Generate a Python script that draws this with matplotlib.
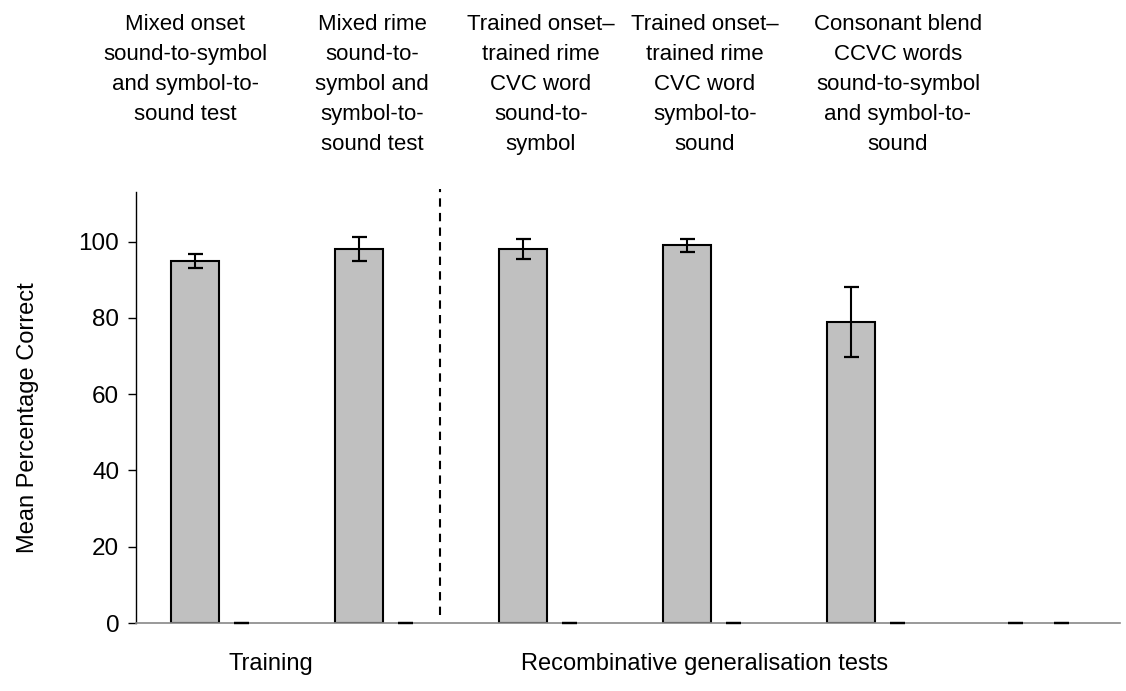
import matplotlib
matplotlib.use("Agg")
import matplotlib.pyplot as plt
import numpy as np
from matplotlib import font_manager

names = {f.name for f in font_manager.fontManager.ttflist}
NARROW = 'Liberation Sans Narrow' if 'Liberation Sans Narrow' in names else 'Liberation Sans'

categories = [
    "Mixed onset\nsound-to-symbol\nand symbol-to-\nsound test",
    "Mixed rime\nsound-to-\nsymbol and\nsymbol-to-\nsound test",
    "Trained onset\u2013\ntrained rime\nCVC word\nsound-to-\nsymbol",
    "Trained onset\u2013\ntrained rime\nCVC word\nsymbol-to-\nsound",
    "Consonant blend\nCCVC words\nsound-to-symbol\nand symbol-to-\nsound",
    "",
]
series1 = [95.0, 98.0, 98.0, 99.0, 79.0, 0.0]
errors1 = [1.8, 3.2, 2.6, 1.6, 9.2, 0.0]
series2 = [0.0, 0.0, 0.0, 0.0, 0.0, 0.0]
errors2 = [0.0, 0.0, 0.0, 0.0, 0.0, 0.0]
yticks = [0, 20, 40, 60, 80, 100]
group_labels = ["Training", "Recombinative generalisation tests"]

fig = plt.figure(figsize=(11.26, 6.91), dpi=100)
ax = fig.add_axes([136/1126, 1-623/691, (1120-136)/1126, (623-192)/691])

x = np.arange(len(series1))
w = 0.293
off = 0.143
ec1 = ['black' if v != 0 else 'none' for v in series1]
ax.bar(x - off, series1, width=w, color='#C0C0C0', edgecolor=ec1, linewidth=1.5, zorder=2)
ax.errorbar(x - off, series1, yerr=errors1, fmt='none', ecolor='black', elinewidth=1.5,
            capsize=5.4, capthick=1.6, zorder=3, clip_on=False)
ax.errorbar(x + off, series2, yerr=errors2, fmt='none', ecolor='black', elinewidth=1.5,
            capsize=5.4, capthick=1.6, zorder=3, clip_on=False)

ax.set_xlim(-0.5, len(series1) - 0.5)
ax.set_ylim(0, 113)
ax.set_yticks(yticks)
ax.set_yticklabels([str(t) for t in yticks], fontfamily='Liberation Sans', fontsize=17.5)
ax.set_xticks([])
ax.tick_params(axis='y', direction='out', length=6, width=1, colors='black', pad=6)
for s in ['top', 'right']:
    ax.spines[s].set_visible(False)
ax.spines['bottom'].set_color('#888888')
ax.spines['bottom'].set_linewidth(1.2)
ax.spines['left'].set_color('black')
ax.spines['left'].set_linewidth(1)

ax.set_ylabel("Mean Percentage Correct", fontfamily=NARROW, fontsize=17)
ax.yaxis.set_label_coords(-0.099, 1 - (418 - 192) / (623 - 192))

# dashed separator between training and tests
ax.plot([1.354, 1.354], [2, 113.8], ls=(0, (4, 3)), color='black', lw=1.5, clip_on=False, zorder=1)

label_x = [185, 372, 541, 705, 898]
for lx, lab in zip(label_x, categories[:5]):
    fig.text(lx/1126, 1-14/691, lab, ha='center', va='top', fontfamily=NARROW,
             fontsize=16, linespacing=1.56)

fig.text(271/1126, 1-664/691, group_labels[0], ha='center', va='center', fontfamily=NARROW, fontsize=17)
fig.text(705/1126, 1-664/691, group_labels[1], ha='center', va='center', fontfamily=NARROW, fontsize=17)

fig.savefig("out.png", dpi=100)
